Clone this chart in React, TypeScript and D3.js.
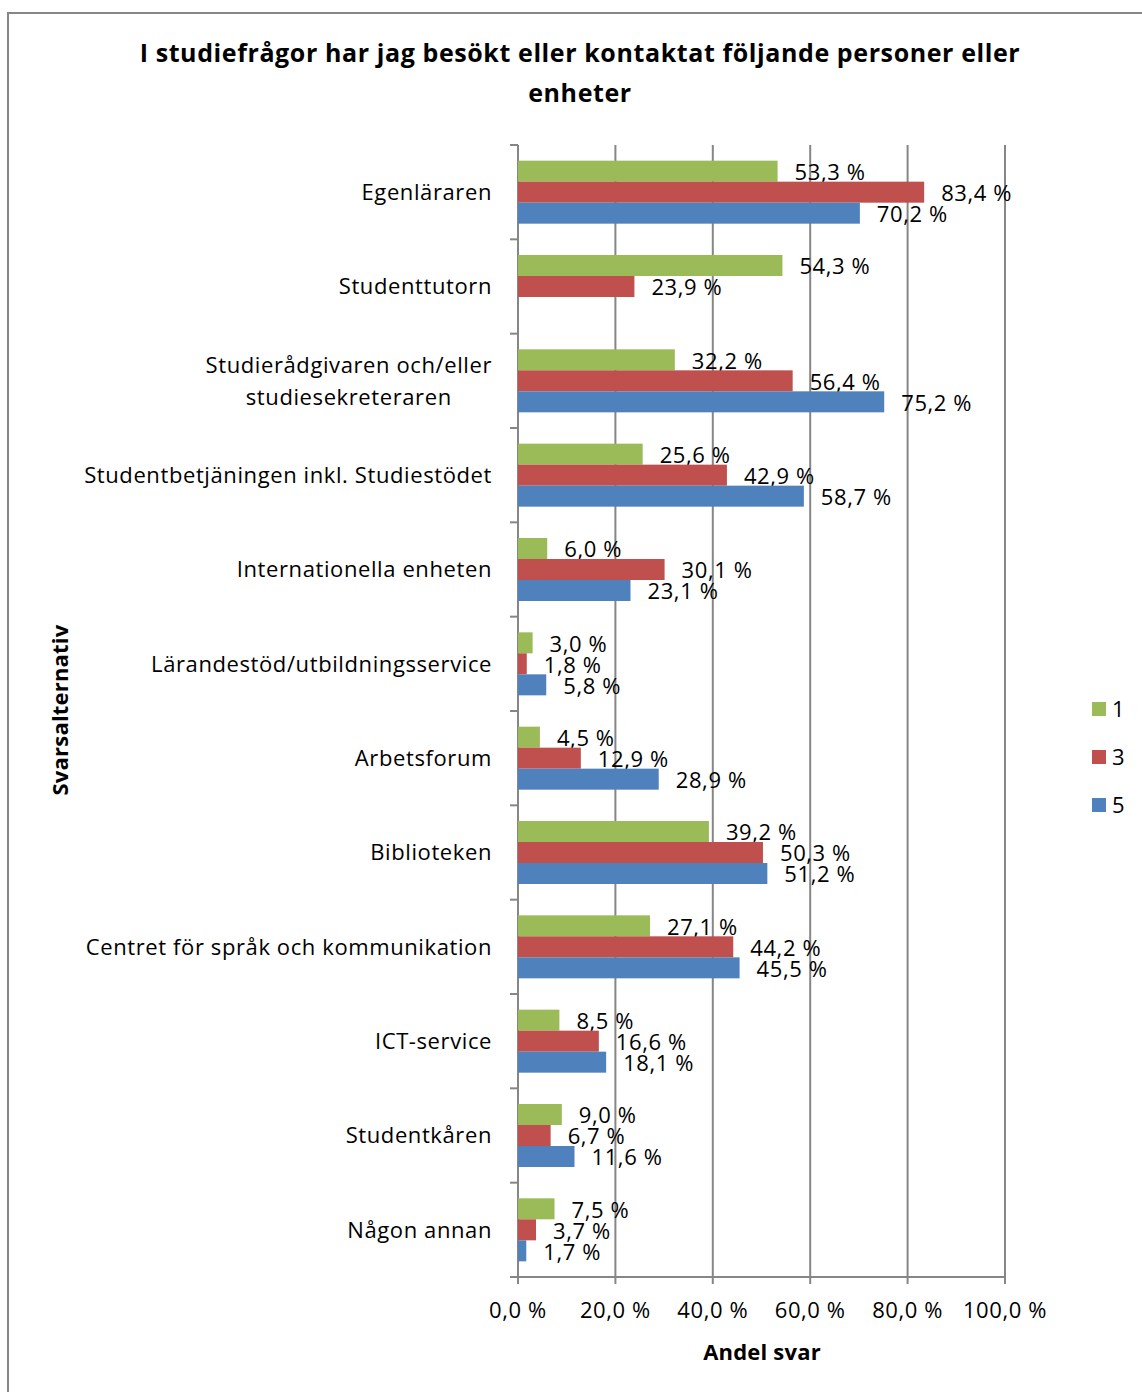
import React from "react";
import * as d3 from "d3";

const title: string[] = [
  "I studiefrågor har jag besökt eller kontaktat följande personer eller",
  "enheter",
];
const categories: string[] = [
  "Egenläraren",
  "Studenttutorn",
  "Studierådgivaren och/eller\nstudiesekreteraren",
  "Studentbetjäningen inkl. Studiestödet",
  "Internationella enheten",
  "Lärandestöd/utbildningsservice",
  "Arbetsforum",
  "Biblioteken",
  "Centret för språk och kommunikation",
  "ICT-service",
  "Studentkåren",
  "Någon annan",
];
const seriesNames: string[] = ["1", "3", "5"];
const series1: (number | null)[] = [53.3, 54.3, 32.2, 25.6, 6.0, 3.0, 4.5, 39.2, 27.1, 8.5, 9.0, 7.5];
const series3: (number | null)[] = [83.4, 23.9, 56.4, 42.9, 30.1, 1.8, 12.9, 50.3, 44.2, 16.6, 6.7, 3.7];
const series5: (number | null)[] = [70.2, null, 75.2, 58.7, 23.1, 5.8, 28.9, 51.2, 45.5, 18.1, 11.6, 1.7];
const colors: string[] = ["#9BBB59", "#C0504D", "#4F81BD"];
const xTicks: number[] = [0, 20, 40, 60, 80, 100];
const xAxisTitle = "Andel svar";
const yAxisTitle = "Svarsalternativ";

const FONT = "'Open Sans', sans-serif";
const GRID = "#868686";
const LS = 0.6;

let canvasCtx: CanvasRenderingContext2D | null = null;
function measure(text: string, font: string): number {
  if (!canvasCtx) {
    const c = document.createElement("canvas");
    canvasCtx = c.getContext("2d");
  }
  if (!canvasCtx) return text.length * 10;
  canvasCtx.font = font;
  return canvasCtx.measureText(text).width + text.length * LS;
}

const fmt = (v: number) => d3.format(".1f")(v).replace(".", ",") + " %";

export default function App() {
  const W = 1142;
  const H = 1392;
  const x = d3.scaleLinear().domain([0, 100]).range([518, 1005]);
  const y = d3.scaleBand<string>().domain(categories).range([145, 1277]).padding(0);
  const bw = y.bandwidth();
  const barH = 21;
  const pad = (bw / barH - 3) / 2;
  const inner = d3.scaleBand<string>().domain(seriesNames).range([0, bw]).paddingInner(0).paddingOuter(pad);
  const allSeries = [series1, series3, series5];
  const labelSize = 22;
  const labelFont = `${labelSize}px 'Open Sans'`;

  return (
    <svg width={W} height={H} style={{ position: "absolute", left: 0, top: 0, background: "#fff" }} fontFamily={FONT} letterSpacing={LS}>
      <rect x={0} y={0} width={W} height={H} fill="#fff" />
      <rect x={8} y={13} width={1300} height={1500} fill="none" stroke={GRID} strokeWidth={2} />
      {/* title */}
      {title.map((t, i) => (
        <text key={i} x={580} y={62 + i * 40} textAnchor="middle" fontSize={25} fontWeight="bold" fill="#000">
          {t}
        </text>
      ))}
      {/* gridlines */}
      {xTicks.map((t) => (
        <line key={"g" + t} x1={x(t)} x2={x(t)} y1={145} y2={1284} stroke={GRID} strokeWidth={2} />
      ))}
      {/* bottom axis */}
      <line x1={x(0)} x2={x(100)} y1={1277} y2={1277} stroke={GRID} strokeWidth={2} />
      {/* left ticks */}
      {categories.map((c, i) => (
        <line key={"t" + i} x1={510} x2={518} y1={(y(c) as number)} y2={(y(c) as number)} stroke={GRID} strokeWidth={2} />
      ))}
      <line x1={510} x2={518} y1={1277} y2={1277} stroke={GRID} strokeWidth={2} />
      {/* bars */}
      {categories.map((c, ci) => (
        <g key={"b" + ci} transform={`translate(0,${y(c)})`}>
          {allSeries.map((s, si) => {
            const v = s[ci];
            if (v === null || v === undefined) return null;
            const yy = inner(seriesNames[si]) as number;
            return (
              <g key={si}>
                <rect x={x(0)} y={yy} width={x(v) - x(0)} height={inner.bandwidth()} fill={colors[si]} />
                <text x={x(v) + 17} y={yy + inner.bandwidth() / 2 + 1} dy="0.36em" fontSize={labelSize} fill="#000">
                  {fmt(v)}
                </text>
              </g>
            );
          })}
        </g>
      ))}
      {/* category labels */}
      {categories.map((c, ci) => {
        const lines = c.split("\n");
        const cy = (y(c) as number) + bw / 2;
        const lh = 32;
        if (lines.length === 1) {
          return (
            <text key={"c" + ci} x={492} y={cy} dy="0.36em" textAnchor="end" fontSize={labelSize} fill="#000">
              {c}
            </text>
          );
        }
        const maxW = Math.max(...lines.map((l) => measure(l, labelFont)));
        const cx = 492 - maxW / 2;
        return (
          <text key={"c" + ci} textAnchor="middle" fontSize={labelSize} fill="#000">
            {lines.map((l, li) => (
              <tspan key={li} x={cx} y={cy + (li - (lines.length - 1) / 2) * lh} dy="0.36em">
                {l}
              </tspan>
            ))}
          </text>
        );
      })}
      {/* x tick labels */}
      {xTicks.map((t) => (
        <text key={"xl" + t} x={x(t)} y={1318} textAnchor="middle" fontSize={labelSize} fill="#000">
          {d3.format(".1f")(t).replace(".", ",") + " %"}
        </text>
      ))}
      <text x={762} y={1360} textAnchor="middle" fontSize={22} fontWeight="bold" fill="#000" letterSpacing={0.2}>
        {xAxisTitle}
      </text>
      <text transform={`translate(68,710) rotate(-90)`} textAnchor="middle" fontSize={22} fontWeight="bold" fill="#000" letterSpacing={0.2}>
        {yAxisTitle}
      </text>
      {/* legend */}
      {seriesNames.map((n, i) => (
        <g key={"l" + i} transform={`translate(1092,${702 + i * 48})`}>
          <rect x={0} y={0} width={14} height={14} fill={colors[i]} />
          <text x={20} y={7} dy="0.36em" fontSize={labelSize} fill="#000">
            {n}
          </text>
        </g>
      ))}
    </svg>
  );
}
